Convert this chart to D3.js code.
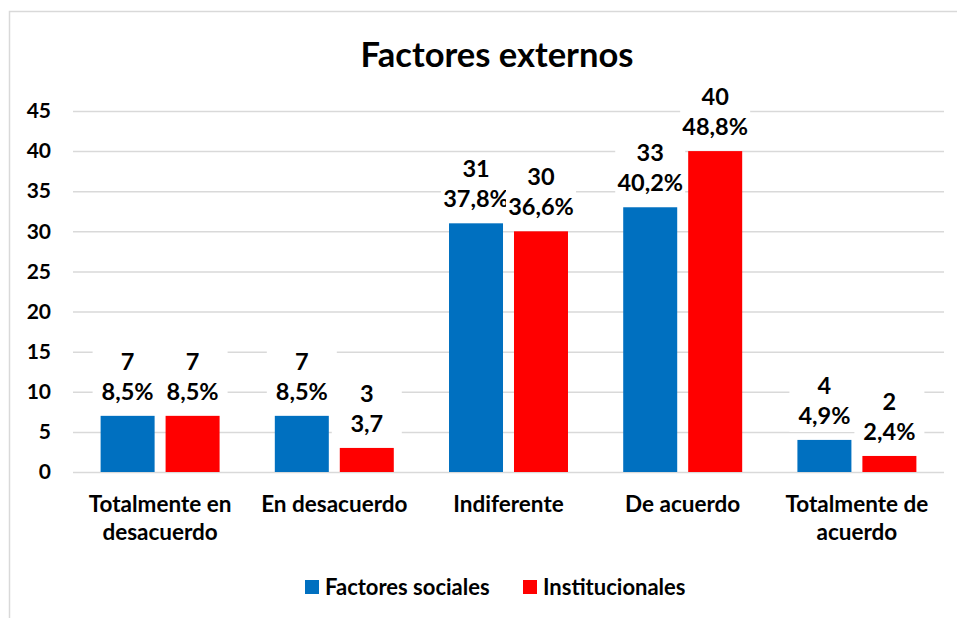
<!DOCTYPE html>
<html>
<head>
<meta charset="utf-8">
<script src="https://cdnjs.cloudflare.com/ajax/libs/d3/7.8.5/d3.min.js"></script>
<style>
  body { margin: 0; background: #fff; }
  text { font-family: Lato, "Open Sans", sans-serif; font-weight: bold; fill: #000; }
</style>
</head>
<body>
<div id="chart"></div>
<script>
// chart data
var categories = ["Totalmente en\ndesacuerdo", "En desacuerdo", "Indiferente", "De acuerdo", "Totalmente de\nacuerdo"];
var seriesNames = ["Factores sociales", "Institucionales"];
var sociales = [7, 7, 31, 33, 4];
var institucionales = [7, 3, 30, 40, 2];
var pctSociales = ["8,5%", "8,5%", "37,8%", "40,2%", "4,9%"];
var pctInstitucionales = ["8,5%", "3,7", "36,6%", "48,8%", "2,4%"];
var yTicks = [0, 5, 10, 15, 20, 25, 30, 35, 40, 45];

var colors = ["#0070C0", "#FF0000"];

var svgWidth = 957;
var svgHeight = 618;

var svg = d3.select("#chart")
  .append("svg")
  .attr("width", svgWidth)
  .attr("height", svgHeight);

// outer chart border (cut off right and bottom)
svg.append("rect")
  .attr("x", 9.5)
  .attr("y", 11.5)
  .attr("width", 1000)
  .attr("height", 700)
  .attr("fill", "none")
  .attr("stroke", "#d9d9d9")
  .attr("stroke-width", 1.5);

var plot = { left: 73, right: 944, top: 111, bottom: 472 };

var x0 = d3.scaleBand()
  .domain(categories)
  .range([plot.left, plot.right])
  .paddingInner(0.317)
  .paddingOuter(0.1585);

var x1 = d3.scaleBand()
  .domain(seriesNames)
  .range([0, x0.bandwidth()])
  .paddingInner(0.169);

var y = d3.scaleLinear()
  .domain([0, 45])
  .range([plot.bottom, plot.top]);

// gridlines
svg.append("g")
  .selectAll("line")
  .data(yTicks)
  .enter()
  .append("line")
  .attr("x1", plot.left)
  .attr("x2", plot.right)
  .attr("y1", d => y(d) + 0.5)
  .attr("y2", d => y(d) + 0.5)
  .attr("stroke", "#d9d9d9")
  .attr("stroke-width", 1.5);

// y tick labels
var leftAxis = d3.axisLeft(y).tickValues(yTicks).tickSize(0).tickPadding(0);
var yAxis = svg.append("g")
  .attr("transform", "translate(51, 0)")
  .call(leftAxis);
yAxis.select(".domain").remove();
yAxis.selectAll("text")
  .attr("font-size", "21px")
  .attr("font-family", "Lato, sans-serif")
  .attr("font-weight", "bold")
  .attr("fill", "#000");

// rows per series
var rows = categories.map(function(c, i) {
  return [
    { cat: c, s: seriesNames[0], v: sociales[i], p: pctSociales[i], color: colors[0] },
    { cat: c, s: seriesNames[1], v: institucionales[i], p: pctInstitucionales[i], color: colors[1] }
  ];
});
var flat = [].concat.apply([], rows);

// bars
svg.append("g")
  .selectAll("rect")
  .data(flat)
  .enter()
  .append("rect")
  .attr("x", d => x0(d.cat) + x1(d.s))
  .attr("y", d => y(d.v))
  .attr("width", x1.bandwidth())
  .attr("height", d => y(0) - y(d.v))
  .attr("fill", d => d.color);

// data labels with white boxes
var labels = svg.append("g")
  .selectAll("g")
  .data(flat)
  .enter()
  .append("g")
  .attr("transform", d => `translate(${x0(d.cat) + x1(d.s) + x1.bandwidth() / 2}, ${y(d.v) - 16})`);

labels.append("rect")
  .attr("x", -35)
  .attr("y", -54)
  .attr("width", 70)
  .attr("height", 62)
  .attr("fill", "#fff");

labels.append("text")
  .attr("text-anchor", "middle")
  .attr("y", -30)
  .attr("font-size", "23.5px")
  .text(d => d.v);

labels.append("text")
  .attr("text-anchor", "middle")
  .attr("y", 0)
  .attr("font-size", "23.5px")
  .text(d => d.p);

// category labels
var catLabels = svg.append("g")
  .selectAll("text")
  .data(categories)
  .enter()
  .append("text")
  .attr("text-anchor", "middle")
  .attr("font-size", "22.5px")
  .attr("x", d => x0(d) + x0.bandwidth() / 2)
  .attr("y", 512);

catLabels.selectAll("tspan")
  .data(d => d.split("\n"))
  .enter()
  .append("tspan")
  .attr("x", function() { return this.parentNode.getAttribute("x"); })
  .attr("dy", (d, i) => i === 0 ? 0 : 28)
  .text(d => d);

// title
svg.append("text")
  .attr("x", 497)
  .attr("y", 67)
  .attr("text-anchor", "middle")
  .attr("font-size", "34.5px")
  .text("Factores externos");

// legend
var legendX = [305, 523];
var legend = svg.append("g")
  .selectAll("g")
  .data(seriesNames)
  .enter()
  .append("g")
  .attr("transform", (d, i) => `translate(${legendX[i]}, 580)`);

legend.append("rect")
  .attr("width", 14)
  .attr("height", 14)
  .attr("fill", (d, i) => colors[i]);

legend.append("text")
  .attr("x", 20)
  .attr("y", 15)
  .attr("font-size", "22px")
  .text(d => d);
</script>
</body>
</html>
